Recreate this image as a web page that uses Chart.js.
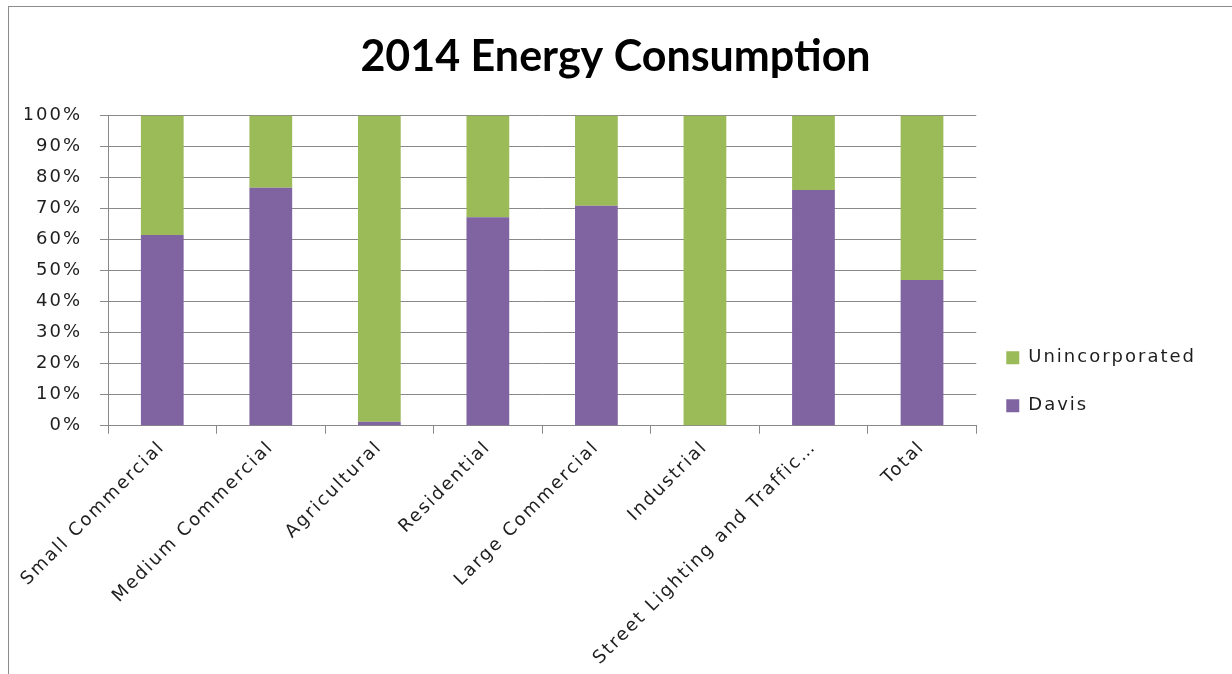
<!DOCTYPE html>
<html>
  <head>
    <meta charset="utf-8" />
    <title>2014 Energy Consumption</title>
    <script src="https://cdn.jsdelivr.net/npm/chart.js"></script>
    <style>
      body { margin: 0; background: #fff; }
      #frame {
        position: absolute; left: 8px; top: 6px; width: 1240px; height: 700px;
        border-left: 1px solid #8c8c8c; border-top: 1px solid #8c8c8c;
      }
      #wrap { position: absolute; left: 0; top: 0; width: 1232px; height: 674px; }
    </style>
  </head>
  <body>
    <div id="frame"></div>
    <div id="wrap"><canvas id="energyChart"></canvas></div>
    <script type="text/javascript">
      var categories = ['Small Commercial', 'Medium Commercial', 'Agricultural', 'Residential',
        'Large Commercial', 'Industrial', 'Street Lighting and Traffic\u2026', 'Total']
      var davis = [61.5, 76.7, 1.3, 67.2, 70.9, 0, 76.0, 47.0]
      var unincorporated = [38.5, 23.3, 98.7, 32.8, 29.1, 100, 24.0, 53.0]
      var yTicks = [0, 10, 20, 30, 40, 50, 60, 70, 80, 90, 100]

      var gridColor = '#898989'
      var textColor = '#1e1e1e'
      var textFont = { family: 'DejaVu Sans', size: 18 }

      // the excel text is rendered quite wide, so space the letters out a bit
      // (but not in the title)
      var spacing = {
        id: 'spacing',
        beforeUpdate: function(chart) { chart.ctx.letterSpacing = '2px' },
        beforeDraw: function(chart) {
          var t = chart.titleBlock
          if (t && !t._spaced) {
            var draw = t.draw
            t.draw = function() {
              chart.ctx.letterSpacing = '0px'
              draw.apply(t, arguments)
              chart.ctx.letterSpacing = '2px'
            }
            t._spaced = true
          }
          chart.ctx.letterSpacing = '2px'
        },
      }

      var ctx = document.getElementById('energyChart').getContext('2d')
      new Chart(ctx, {
        type: 'bar',
        plugins: [spacing],
        data: {
          labels: categories,
          datasets: [{
            label: 'Davis',
            data: davis,
            backgroundColor: '#8064A2',
            barPercentage: 0.394,
            categoryPercentage: 1,
          }, {
            label: 'Unincorporated',
            data: unincorporated,
            backgroundColor: '#9BBB59',
            barPercentage: 0.394,
            categoryPercentage: 1,
          }]
        },
        options: {
          responsive: true,
          maintainAspectRatio: false,
          animation: false,
          layout: { padding: { top: 31, left: 25, right: 26, bottom: 2 } },
          plugins: {
            title: {
              display: true,
              text: '2014 Energy Consumption',
              color: '#000',
              font: { family: 'Lato', size: 43, weight: 'bold' },
              padding: { top: 0, bottom: 33 },
            },
            legend: {
              position: 'right',
              reverse: true,
              // blank legend title, only used to push the items down
              title: { display: true, text: ' ', font: { size: 12 }, padding: { top: 0, bottom: 46 } },
              labels: {
                color: textColor,
                font: textFont,
                boxWidth: 13,
                boxHeight: 13,
                padding: 30,
              },
            },
            tooltip: { enabled: false },
          },
          scales: {
            x: {
              stacked: true,
              afterFit: function(axis) { axis.paddingLeft = 0 },
              grid: {
                offset: true,
                drawOnChartArea: false,
                drawTicks: true,
                tickLength: 8,
                color: gridColor,
              },
              border: { color: gridColor },
              ticks: {
                color: textColor,
                font: textFont,
                minRotation: 45,
                maxRotation: 45,
                autoSkip: false,
              },
            },
            y: {
              stacked: true,
              min: 0,
              max: 100,
              afterBuildTicks: function(axis) {
                axis.ticks = yTicks.map(function(v) { return { value: v } })
              },
              afterFit: function(axis) { axis.width = 83 },
              grid: { color: gridColor, tickLength: 8 },
              border: { color: gridColor },
              ticks: {
                color: textColor,
                font: textFont,
                padding: 18,
                callback: function(v) { return v + '%' },
              },
            },
          },
        },
      })
    </script>
  </body>
</html>
